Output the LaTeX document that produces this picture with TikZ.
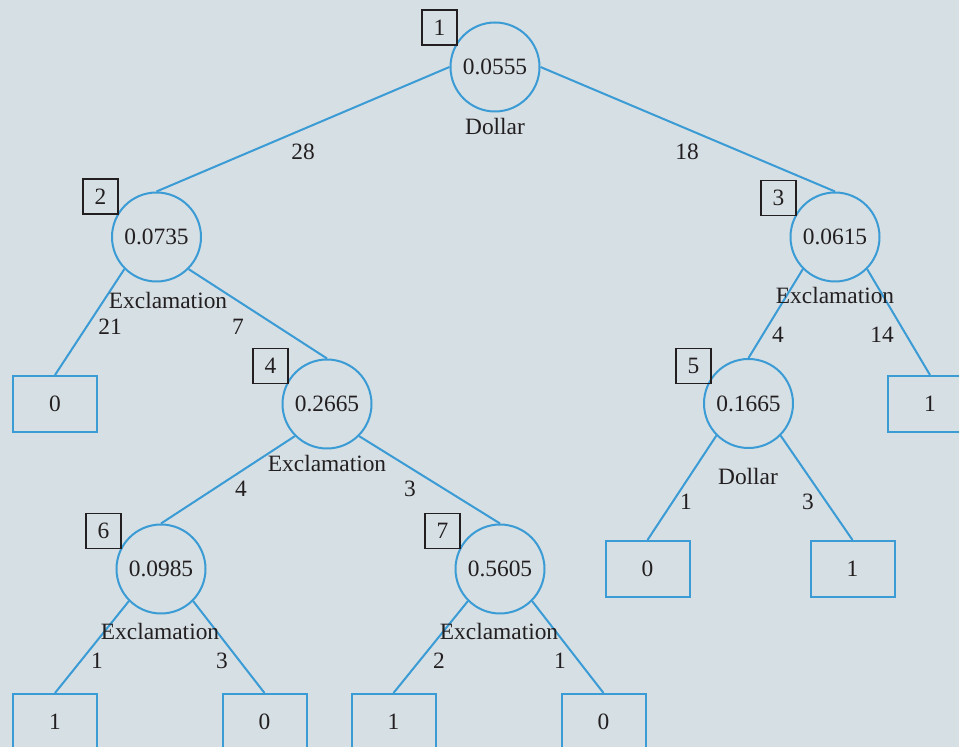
\documentclass[tikz,border=0pt]{standalone}
\usepackage{fontspec}
\setmainfont{Liberation Serif}
\definecolor{bgc}{HTML}{D6DFE4}
\definecolor{edgeblue}{HTML}{3A9BD5}
\definecolor{ink}{HTML}{231F20}
\begin{document}
\begin{tikzpicture}[x=0.5pt,y=-0.5pt,
  font=\fontsize{11.7}{14}\selectfont, text=ink,
  split/.style={circle,draw=edgeblue,line width=1pt,minimum size=44.5pt,inner sep=0pt},
  leaf/.style={rectangle,draw=edgeblue,line width=1pt,minimum width=42pt,minimum height=28pt,inner sep=0pt},
  idbox/.style={rectangle,draw=ink,line width=0.75pt,minimum size=17.5pt,inner sep=0pt},
  branch/.style={draw=edgeblue,line width=1pt},
  tag/.style={inner sep=0pt}]
% background and page extent
\fill[bgc] (0,0) rectangle (959,747);
\useasboundingbox (0,0) rectangle (959,747);

% decision nodes
\node[split] (n1) at (495,67) {0.0555};
\node[split] (n2) at (156.5,237) {0.0735};
\node[split] (n3) at (835,237) {0.0615};
\node[split] (n4) at (327,404) {0.2665};
\node[split] (n5) at (748.5,403.5) {0.1665};
\node[split] (n6) at (161,569) {0.0985};
\node[split] (n7) at (500,569) {0.5605};

% node numbers
\node[idbox] (b1) at (439.5,27.5) {1};
\node[idbox] (b2) at (100.5,196.5) {2};
\node[idbox] (b3) at (778.5,198) {3};
\node[idbox] (b4) at (270.5,366) {4};
\node[idbox] (b5) at (693.5,366) {5};
\node[idbox] (b6) at (103.5,531) {6};
\node[idbox] (b7) at (442.5,531) {7};

% leaves
\node[leaf] (l2) at (55,404) {0};
\node[leaf] (l3) at (930,404) {1};
\node[leaf] (l5a) at (647.5,569) {0};
\node[leaf] (l5b) at (852.5,569) {1};
\node[leaf] (l6a) at (55,722) {1};
\node[leaf] (l6b) at (264.5,722) {0};
\node[leaf] (l7a) at (393.5,722) {1};
\node[leaf] (l7b) at (603.5,722) {0};

% branches
\draw[branch] (n1.west) -- (n2.north);
\draw[branch] (n1.east) -- (n3.north);
\draw[branch] (n2.225) -- (l2.north);
\draw[branch] (n2.315) -- (n4.north);
\draw[branch] (n3.225) -- (n5.north);
\draw[branch] (n3.315) -- (l3.north);
\draw[branch] (n4.225) -- (n6.north);
\draw[branch] (n4.315) -- (n7.north);
\draw[branch] (n5.225) -- (l5a.north);
\draw[branch] (n5.315) -- (l5b.north);
\draw[branch] (n6.225) -- (l6a.north);
\draw[branch] (n6.315) -- (l6b.north);
\draw[branch] (n7.225) -- (l7a.north);
\draw[branch] (n7.315) -- (l7b.north);

% split attributes
\node[tag] (a1) at (495,127) {Dollar};
\node[tag] (a2) at (168,301) {Exclamation};
\node[tag] (a3) at (835,296) {Exclamation};
\node[tag] (a4) at (327,464) {Exclamation};
\node[tag] (a5) at (748,477) {Dollar};
\node[tag] (a6) at (160,632) {Exclamation};
\node[tag] (a7) at (499,632) {Exclamation};

% branch counts
\node[tag] (c12) at (303,152) {28};
\node[tag] (c13) at (687,152) {18};
\node[tag] (c2l) at (110,327) {21};
\node[tag] (c24) at (238,327) {7};
\node[tag] (c35) at (778,335) {4};
\node[tag] (c3l) at (882,335) {14};
\node[tag] (c46) at (241,489) {4};
\node[tag] (c47) at (410,489) {3};
\node[tag] (c5a) at (686,502) {1};
\node[tag] (c5b) at (808,502) {3};
\node[tag] (c6a) at (97,661) {1};
\node[tag] (c6b) at (222,661) {3};
\node[tag] (c7a) at (439,661) {2};
\node[tag] (c7b) at (560,661) {1};
\end{tikzpicture}
\end{document}
